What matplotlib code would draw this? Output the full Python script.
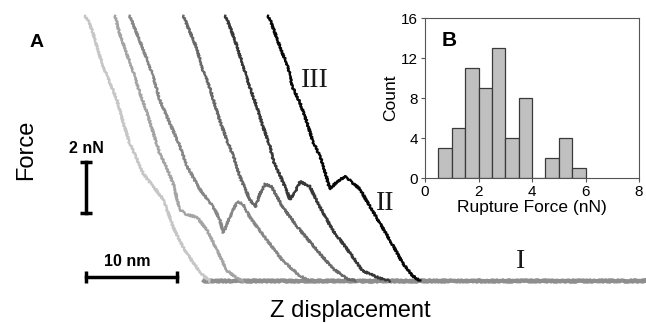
import matplotlib
matplotlib.use('Agg')
import matplotlib.pyplot as plt

plt.rcParams['font.family'] = ['Liberation Sans', 'DejaVu Sans']

# force curves, displacement in nm and force in nN
curve_a_x = [-0.1, 0.4, 0.8, 1.2, 1.9, 2.6, 3.4, 4.1, 4.8, 5.2, 6.3, 7.4, 8.5, 9.6, 10.7, 11.8, 12.9, 13.6]
curve_a_y = [10.4, 10.1, 9.7, 9.2, 8.4, 7.8, 7.1, 6.2, 5.4, 5.1, 4.2, 3.7, 3.2, 2.1, 1.3, 0.7, 0.2, 0.0]

curve_b_x = [3.2, 3.7, 4.5, 5.2, 5.9, 6.7, 7.4, 8.1, 8.8, 9.6, 10.3, 11.1, 12.2, 13.3, 14.4, 15.5, 16.6, 17.3]
curve_b_y = [10.4, 9.7, 8.9, 8.2, 7.4, 6.6, 5.8, 5.0, 4.5, 3.8, 2.8, 2.6, 2.5, 2.0, 1.2, 0.4, 0.1, 0.0]

curve_c_x = [4.8, 5.6, 6.7, 7.4, 8.1, 9.2, 10.3, 11.1, 12.5, 14.0, 14.7, 15.1, 15.8, 16.6, 17.3, 18.0, 19.9, 21.6, 23.5, 24.6]
curve_c_y = [10.4, 9.7, 8.7, 8.0, 7.1, 6.2, 5.3, 4.5, 3.6, 2.9, 2.4, 1.9, 2.5, 3.1, 3.0, 2.5, 1.6, 0.8, 0.2, 0.0]

curve_d_x = [10.7, 11.4, 12.2, 12.9, 13.4, 14.0, 14.7, 15.5, 16.2, 16.9, 18.0, 18.6, 19.1, 19.7, 20.4, 21.6, 23.5, 25.4, 27.1, 28.6, 29.6]
curve_d_y = [10.4, 9.8, 9.1, 8.2, 7.8, 7.1, 6.3, 5.5, 4.9, 4.1, 3.2, 2.9, 3.4, 3.8, 3.7, 2.9, 2.0, 1.2, 0.5, 0.1, 0.0]

curve_e_x = [15.3, 15.8, 16.6, 17.3, 18.0, 18.8, 19.5, 20.2, 20.6, 21.0, 22.1, 22.4, 23.0, 23.5, 24.6, 25.7, 27.1, 29.0, 30.4, 32.3, 33.4]
curve_e_y = [10.4, 10.0, 9.2, 8.4, 7.6, 6.8, 6.0, 5.3, 4.7, 4.4, 3.5, 3.2, 3.5, 3.9, 3.7, 2.9, 2.0, 1.1, 0.4, 0.1, 0.0]

curve_f_x = [20.0, 20.4, 21.3, 22.2, 22.7, 23.5, 24.3, 24.9, 25.7, 26.0, 26.8, 27.6, 28.5, 30.1, 31.9, 33.4, 34.8, 35.9, 36.7]
curve_f_y = [10.4, 10.1, 9.2, 8.4, 7.6, 7.0, 6.2, 5.5, 4.9, 4.6, 3.6, 3.9, 4.1, 3.6, 2.5, 1.6, 0.7, 0.2, 0.0]

baseline_x = [13.0, 61.5]
baseline_y = [0.0, 0.0]

curves = [(curve_a_x, curve_a_y, '#c6c6c6'),
          (curve_b_x, curve_b_y, '#a4a4a4'),
          (curve_c_x, curve_c_y, '#878787'),
          (curve_d_x, curve_d_y, '#686868'),
          (curve_e_x, curve_e_y, '#383838'),
          (curve_f_x, curve_f_y, '#080808')]

# scale bars
bar_nm = 10
bar_nN = 2

# histogram of rupture forces
bin_left = [0.5, 1.0, 1.5, 2.0, 2.5, 3.0, 3.5, 4.0, 4.5, 5.0, 5.5]
counts = [3, 5, 11, 9, 13, 4, 8, 0, 2, 4, 1]

fig = plt.figure(figsize=(6.46, 3.23), dpi=100)
ax = fig.add_axes([0, 0, 1, 1])
ax.set_xlim(-9.45, 61.54)
ax.set_ylim(-1.65, 11.02)
ax.axis('off')

for x, y, c in curves:
    ln, = ax.plot(x, y, color=c, lw=1.7, solid_joinstyle='round')
    ln.set_sketch_params(0.9, 3, 2)

bl, = ax.plot(baseline_x, baseline_y, color='#8e8e8e', lw=3.0, zorder=1)
bl.set_sketch_params(0.7, 2, 2)

# scale bars
ax.plot([0, 0], [2.67, 2.67 + bar_nN], color='k', lw=2.5, marker='_', ms=8, mew=2.5)
ax.plot([0, bar_nm], [0.16, 0.16], color='k', lw=2.5, marker='|', ms=9, mew=2.5)
ax.text(0, 5.2, '2 nN', ha='center', va='center', fontsize=11.5, fontweight='bold')
ax.text(4.5, 0.75, '10 nm', ha='center', va='center', fontsize=11.5, fontweight='bold')

# curve labels
for lab, lx, ly in [('III', 25.1, 7.88), ('II', 32.9, 3.02), ('I', 47.8, 0.75)]:
    ax.text(lx, ly, lab, ha='center', va='center', fontsize=20,
            family='Liberation Serif', color='#1a1a1a')

fig.text(0.057, 0.867, 'A', ha='center', va='center', fontsize=14, fontweight='bold')
fig.text(0.041, 0.536, 'Force', ha='center', va='center', fontsize=17, rotation=90)
fig.text(0.542, 0.037, 'Z displacement', ha='center', va='center', fontsize=17)

# inset histogram
ins = fig.add_axes([425 / 646, 1 - 178 / 323, 214 / 646, 160 / 323])
ins.bar(bin_left, counts, width=0.5, align='edge', color='#c0c0c0',
        edgecolor='#3a3a3a', linewidth=0.9)
ins.set_xlim(0, 8)
ins.set_ylim(0, 16)
ins.set_xticks([0, 2, 4, 6, 8])
ins.set_yticks([0, 4, 8, 12, 16])
ins.tick_params(labelsize=11, length=3, width=0.8, color='#555555', pad=2)
for s in ins.spines.values():
    s.set_color('#555555')
    s.set_linewidth(0.8)
ins.set_xlabel('Rupture Force (nN)', fontsize=12.5, labelpad=1)
ins.set_ylabel('Count', fontsize=12.5, labelpad=2)
ins.text(0.08, 0.86, 'B', transform=ins.transAxes, ha='left', va='center',
         fontsize=15, fontweight='bold')

fig.savefig('out.png', dpi=100)
